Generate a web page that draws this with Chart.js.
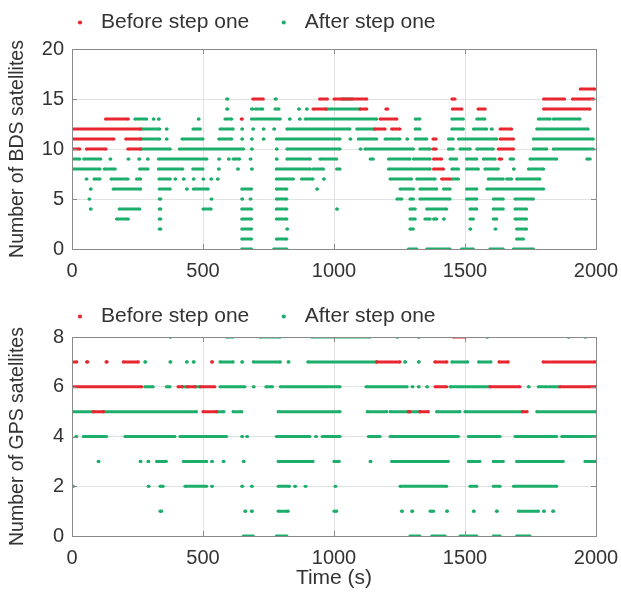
<!DOCTYPE html>
<html>
<head>
<meta charset="utf-8">
<script src="https://cdn.jsdelivr.net/npm/chart.js@4.4.1/dist/chart.umd.min.js"></script>
<style>
  html, body { margin: 0; padding: 0; background: #ffffff; }
  #wrap { position: relative; width: 621px; height: 597px; }
  canvas { position: absolute; left: 0; }
  #bds { top: 0; }
  #gps { top: 290px; }
</style>
</head>
<body>
<div id="wrap">
  <canvas id="bds" width="621" height="290"></canvas>
  <canvas id="gps" width="621" height="307"></canvas>
</div>
<script>
// Satellite counts per epoch, stored as runs: [count, startTime, endTime] (seconds)
const seriesNames = ['Before step one', 'After step one'];
const timeTicks = [0, 500, 1000, 1500, 2000];
const bdsTicks = [0, 5, 10, 15, 20];
const gpsTicks = [0, 2, 4, 6, 8];

const bdsBefore = [
  [16, 1940, 1995],
  [15, 690, 730], [15, 945, 975], [15, 1000, 1125], [15, 1450, 1462], [15, 1800, 1880], [15, 1910, 1990],
  [14, 920, 970], [14, 1100, 1125], [14, 1198, 1205], [14, 1452, 1488], [14, 1550, 1577], [14, 1800, 1977],
  [13, 128, 215], [13, 646, 650], [13, 1176, 1240],
  [12, 0, 262], [12, 1155, 1195], [12, 1220, 1252], [12, 1634, 1678],
  [11, 0, 160], [11, 205, 262], [11, 1378, 1390], [11, 1634, 1685],
  [10, 0, 30], [10, 55, 130], [10, 213, 262], [10, 1378, 1390], [10, 1627, 1685],
  [9, 1380, 1411], [9, 1630, 1640],
  [8, 1380, 1418],
  [7, 1411, 1443]
];
const bdsAfter = [
  [15, 590, 595], [15, 775, 780], [15, 1030, 1070],
  [14, 590, 595], [14, 685, 690], [14, 700, 728], [14, 775, 790], [14, 865, 868], [14, 895, 898], [14, 970, 1100],
  [13, 240, 285], [13, 310, 313], [13, 330, 333], [13, 482, 485], [13, 584, 610], [13, 685, 795], [13, 830, 833],
  [13, 868, 871], [13, 890, 1163], [13, 1310, 1328], [13, 1450, 1494], [13, 1545, 1576], [13, 1780, 1825], [13, 1837, 1939],
  [12, 262, 335], [12, 360, 363], [12, 462, 490], [12, 565, 615], [12, 648, 651], [12, 690, 693], [12, 730, 733],
  [12, 770, 773], [12, 820, 1061], [12, 1087, 1155], [12, 1310, 1328], [12, 1450, 1494], [12, 1532, 1583],
  [12, 1600, 1604], [12, 1774, 1970],
  [11, 262, 335], [11, 360, 363], [11, 420, 500], [11, 560, 610], [11, 648, 651], [11, 685, 688], [11, 730, 733],
  [11, 780, 1023], [11, 1061, 1064], [11, 1093, 1163], [11, 1195, 1252], [11, 1278, 1281], [11, 1310, 1354],
  [11, 1437, 1455], [11, 1475, 1621], [11, 1761, 1990],
  [10, 262, 375], [10, 410, 655], [10, 685, 688], [10, 780, 783], [10, 820, 1023], [10, 1100, 1103], [10, 1118, 1303],
  [10, 1328, 1367], [10, 1437, 1455], [10, 1481, 1520], [10, 1545, 1608], [10, 1761, 1812], [10, 1837, 1990],
  [9, 0, 30], [9, 45, 110], [9, 145, 148], [9, 214, 217], [9, 255, 258], [9, 288, 291], [9, 330, 515], [9, 560, 563],
  [9, 597, 600], [9, 615, 640], [9, 680, 683], [9, 780, 783], [9, 820, 910], [9, 946, 1010], [9, 1138, 1150],
  [9, 1208, 1290], [9, 1303, 1367], [9, 1443, 1468], [9, 1506, 1545], [9, 1570, 1615], [9, 1672, 1685],
  [9, 1748, 1850], [9, 1965, 1978],
  [8, 0, 107], [8, 123, 165], [8, 258, 290], [8, 330, 423], [8, 461, 500], [8, 559, 562], [8, 632, 635], [8, 685, 688],
  [8, 780, 910], [8, 920, 960], [8, 1010, 1023], [8, 1208, 1367], [8, 1450, 1475], [8, 1506, 1551], [8, 1576, 1627],
  [8, 1685, 1688], [8, 1742, 1800],
  [7, 54, 57], [7, 84, 107], [7, 149, 214], [7, 246, 262], [7, 332, 375], [7, 393, 396], [7, 425, 428], [7, 463, 466],
  [7, 500, 503], [7, 530, 533], [7, 555, 558], [7, 780, 845], [7, 876, 920], [7, 960, 963], [7, 1214, 1296],
  [7, 1316, 1386], [7, 1450, 1475], [7, 1589, 1646], [7, 1659, 1678], [7, 1697, 1786],
  [6, 70, 73], [6, 157, 262], [6, 333, 375], [6, 437, 440], [6, 463, 520], [6, 648, 685], [6, 780, 820], [6, 934, 937],
  [6, 1252, 1303], [6, 1328, 1392], [6, 1418, 1443], [6, 1506, 1545], [6, 1583, 1800],
  [5, 65, 68], [5, 333, 339], [5, 531, 534], [5, 648, 651], [5, 680, 683], [5, 780, 820], [5, 1240, 1259],
  [5, 1290, 1303], [5, 1328, 1443], [5, 1506, 1545], [5, 1608, 1646], [5, 1691, 1761],
  [4, 70, 73], [4, 180, 259], [4, 333, 339], [4, 500, 531], [4, 648, 685], [4, 780, 820], [4, 1010, 1013],
  [4, 1290, 1310], [4, 1354, 1430], [4, 1519, 1545], [4, 1608, 1646], [4, 1691, 1735],
  [3, 170, 215], [3, 333, 339], [3, 648, 685], [3, 780, 820], [3, 1290, 1310], [3, 1347, 1367], [3, 1380, 1392],
  [3, 1418, 1421], [3, 1519, 1532], [3, 1608, 1621], [3, 1691, 1735],
  [2, 333, 339], [2, 648, 685], [2, 820, 823], [2, 1290, 1303], [2, 1519, 1522], [2, 1615, 1618], [2, 1697, 1735],
  [1, 648, 685], [1, 780, 820], [1, 1697, 1723],
  [0, 648, 685], [0, 770, 820], [0, 1284, 1316], [0, 1354, 1443], [0, 1487, 1532], [0, 1595, 1646], [0, 1685, 1761]
];

const gpsBefore = [
  [8, 1455, 1502],
  [7, 0, 18], [7, 56, 60], [7, 130, 134], [7, 196, 253], [7, 533, 536], [7, 1163, 1252], [7, 1385, 1431],
  [7, 1630, 1665], [7, 1798, 1996],
  [6, 0, 266], [6, 405, 420], [6, 440, 470], [6, 490, 545], [6, 1386, 1430], [6, 1595, 1710], [6, 1862, 2000],
  [5, 81, 120], [5, 500, 552], [5, 1284, 1290], [5, 1328, 1360], [5, 1720, 1737]
];
const gpsAfter = [
  [8, 374, 377], [8, 590, 615], [8, 717, 795], [8, 915, 1138], [8, 1240, 1243], [8, 1322, 1325], [8, 1583, 1586],
  [8, 1894, 1897], [8, 1958, 1961],
  [7, 278, 281], [7, 374, 377], [7, 437, 440], [7, 463, 466], [7, 565, 615], [7, 648, 651], [7, 692, 795],
  [7, 825, 828], [7, 900, 1163], [7, 1270, 1273], [7, 1322, 1325], [7, 1450, 1510], [7, 1552, 1599],
  [6, 278, 310], [6, 360, 374], [6, 420, 440], [6, 470, 490], [6, 565, 660], [6, 692, 695], [6, 740, 765],
  [6, 795, 1023], [6, 1122, 1279], [6, 1298, 1301], [6, 1322, 1325], [6, 1354, 1357], [6, 1443, 1595],
  [6, 1742, 1745], [6, 1780, 1812], [6, 1820, 1860],
  [5, 0, 81], [5, 120, 475], [5, 552, 580], [5, 615, 648], [5, 787, 1023], [5, 1127, 1201], [5, 1214, 1284],
  [5, 1290, 1328], [5, 1392, 1481], [5, 1500, 1720], [5, 1774, 2000],
  [4, 15, 18], [4, 43, 132], [4, 202, 393], [4, 412, 590], [4, 648, 651], [4, 667, 670], [4, 780, 908], [4, 930, 933],
  [4, 955, 1023], [4, 1131, 1176], [4, 1214, 1475], [4, 1513, 1634], [4, 1691, 1850], [4, 1869, 2000],
  [3, 100, 103], [3, 260, 263], [3, 290, 293], [3, 323, 360], [3, 425, 514], [3, 533, 536], [3, 577, 580],
  [3, 654, 657], [3, 787, 920], [3, 1000, 1020], [3, 1138, 1141], [3, 1220, 1436], [3, 1513, 1557], [3, 1608, 1646],
  [3, 1697, 1875], [3, 1958, 2000],
  [2, 0, 5], [2, 291, 294], [2, 336, 348], [2, 431, 514], [2, 533, 536], [2, 648, 651], [2, 685, 688], [2, 787, 830],
  [2, 850, 853], [2, 890, 893], [2, 1004, 1007], [2, 1252, 1430], [2, 1519, 1545], [2, 1608, 1634], [2, 1685, 1850],
  [1, 336, 342], [1, 660, 663], [1, 685, 688], [1, 787, 825], [1, 1000, 1010], [1, 1258, 1261], [1, 1297, 1300],
  [1, 1367, 1380], [1, 1430, 1433], [1, 1532, 1535], [1, 1620, 1623], [1, 1704, 1780], [1, 1800, 1803], [1, 1835, 1838],
  [0, 654, 692], [0, 780, 820], [0, 1290, 1328], [0, 1373, 1424], [0, 1481, 1545], [0, 1608, 1634], [0, 1697, 1748]
];

const RED = '#e8262f';
const GREEN = '#1eae6c';
const TEXT = '#333333';
const FONT = "'Liberation Sans', Arial, sans-serif";

// Each run becomes two points joined by a segment; a null point breaks the line between runs.
function runsToPoints(runs) {
  const pts = [];
  runs.forEach(([n, t0, t1]) => {
    pts.push({ x: t0, y: n }, { x: t1, y: n }, { x: t1, y: null });
  });
  return pts;
}

// Full box around the plot area plus inward tick marks on all four sides.
const frame = {
  id: 'frame',
  afterDraw(chart) {
    const { ctx, chartArea: a, scales } = chart;
    ctx.save();
    ctx.strokeStyle = '#8a8a8a';
    ctx.lineWidth = 1;
    ctx.beginPath();
    scales.x.ticks.forEach(t => {
      const px = Math.round(scales.x.getPixelForValue(t.value)) + 0.5;
      ctx.moveTo(px, a.bottom); ctx.lineTo(px, a.bottom - 5);
      ctx.moveTo(px, a.top); ctx.lineTo(px, a.top + 5);
    });
    scales.y.ticks.forEach(t => {
      const py = Math.round(scales.y.getPixelForValue(t.value)) + 0.5;
      ctx.moveTo(a.left, py); ctx.lineTo(a.left + 5, py);
      ctx.moveTo(a.right, py); ctx.lineTo(a.right - 5, py);
    });
    ctx.stroke();
    ctx.strokeRect(Math.round(a.left) + 0.5, Math.round(a.top) + 0.5,
                   Math.round(a.right - a.left), Math.round(a.bottom - a.top));
    ctx.restore();
  }
};

// Moves the legend block sideways/vertically after layout.
const legendShift = {
  id: 'legendShift',
  afterLayout(chart, args, opts) {
    const l = chart.legend;
    if (!l) return;
    l.left += opts.dx || 0; l.right += opts.dx || 0;
    l.top += opts.dy || 0; l.bottom += opts.dy || 0;
  }
};

function makeChart(id, before, after, yTicks, yTitle, xTitle, cfg) {
  const canvas = document.getElementById(id);
  const H = canvas.height;
  const lineStyle = color => ({
    borderColor: color,
    backgroundColor: color,
    borderWidth: 3,
    borderCapStyle: 'butt',
    pointRadius: 1.6,
    pointHoverRadius: 1.6,
    pointBorderWidth: 0,
    pointStyle: 'circle',
    showLine: true,
    spanGaps: false
  });
  return new Chart(canvas, {
    type: 'scatter',
    data: {
      datasets: [
        Object.assign({ label: seriesNames[0], data: runsToPoints(before) }, lineStyle(RED)),
        Object.assign({ label: seriesNames[1], data: runsToPoints(after) }, lineStyle(GREEN))
      ]
    },
    options: {
      responsive: false,
      animation: false,
      events: [],
      layout: { padding: { top: cfg.padTop, right: 25, left: 0, bottom: 0 } },
      plugins: {
        tooltip: { enabled: false },
        legend: {
          position: 'top',
          align: 'start',
          labels: {
            usePointStyle: true,
            pointStyle: 'circle',
            boxHeight: 3,
            padding: 24,
            color: TEXT,
            font: { family: FONT, size: 21 }
          }
        },
        legendShift: { dx: cfg.legendDx, dy: cfg.legendDy }
      },
      scales: {
        x: {
          type: 'linear',
          min: timeTicks[0],
          max: timeTicks[timeTicks.length - 1],
          afterBuildTicks: s => { s.ticks = timeTicks.map(v => ({ value: v })); },
          afterFit: s => { s.height = H - cfg.areaBottom; s.paddingLeft = 0; s.paddingRight = 0; },
          ticks: {
            color: TEXT, font: { family: FONT, size: 20 }, padding: cfg.xTickPad, maxRotation: 0,
            callback: v => String(v)
          },
          grid: { color: '#e2e2e2', lineWidth: 1, drawTicks: false },
          border: { display: false },
          title: xTitle ? {
            display: true, text: xTitle, color: TEXT,
            font: { family: FONT, size: 21 }, padding: { top: 0, bottom: 6 }
          } : { display: false }
        },
        y: {
          type: 'linear',
          min: yTicks[0],
          max: yTicks[yTicks.length - 1],
          afterBuildTicks: s => { s.ticks = yTicks.map(v => ({ value: v })); },
          afterFit: s => { s.width = 72; },
          ticks: {
            color: TEXT, font: { family: FONT, size: 20 }, padding: 8,
            callback: v => String(v)
          },
          grid: { color: '#e2e2e2', lineWidth: 1, drawTicks: false },
          border: { display: false },
          title: {
            display: true, text: yTitle, color: TEXT,
            font: { family: FONT, size: 19.5 }, padding: { top: 6, bottom: 0 }
          }
        }
      }
    },
    plugins: [frame, legendShift]
  });
}

makeChart('bds', bdsBefore, bdsAfter, bdsTicks, 'Number of BDS satellites', null,
  { padTop: -6, legendDx: 45.5, legendDy: -6, areaBottom: 249, xTickPad: 10 });
makeChart('gps', gpsBefore, gpsAfter, gpsTicks, 'Number of GPS satellites', 'Time (s)',
  { padTop: -8, legendDx: 45.5, legendDy: 0, areaBottom: 246, xTickPad: 10 });
</script>
</body>
</html>
